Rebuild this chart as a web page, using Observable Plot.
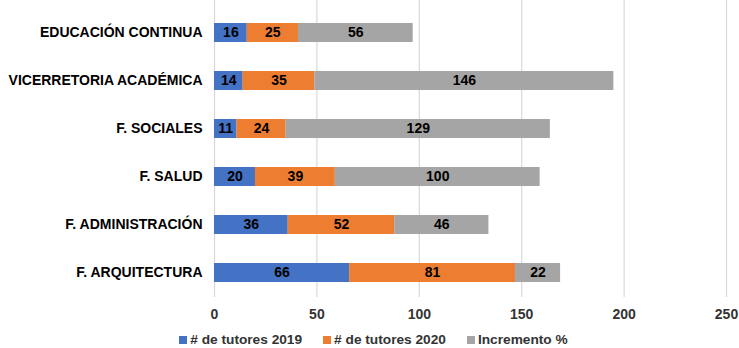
<!DOCTYPE html>
<html>
<head>
<meta charset="utf-8">
<script src="https://cdn.jsdelivr.net/npm/d3@7"></script>
<script src="https://cdn.jsdelivr.net/npm/@observablehq/plot@0.6"></script>
<style>
  body { margin: 0; background: #fff; font-family: "Liberation Sans", Arial, sans-serif; }
  #chart { width: 739px; }
  .legend { display: flex; justify-content: center; gap: 21px; margin-top: 7px; margin-left: 8px;
            font: bold 13.7px "Liberation Sans", Arial, sans-serif; color: #333; line-height: 16px; }
  .legend span.item { display: inline-flex; align-items: center; }
  .legend i { display: inline-block; width: 8px; height: 8px; margin-right: 3px; }
</style>
</head>
<body>
<div id="chart"></div>
<script>
// Tutores por dependencia: 2019, 2020 e incremento porcentual
const categories = ["EDUCACIÓN CONTINUA", "VICERRETORIA ACADÉMICA", "F. SOCIALES", "F. SALUD", "F. ADMINISTRACIÓN", "F. ARQUITECTURA"];
const tutores2019 = [16, 14, 11, 20, 36, 66];
const tutores2020 = [25, 35, 24, 39, 52, 81];
const incremento = [56, 146, 129, 100, 46, 22];
const seriesNames = ["# de tutores 2019", "# de tutores 2020", "Incremento %"];
const seriesColors = ["#4472C4", "#ED7D31", "#A5A5A5"];
const xTicks = [0, 50, 100, 150, 200, 250];

const seriesValues = [tutores2019, tutores2020, incremento];
const rows = [];
categories.forEach((c, i) => {
  seriesNames.forEach((s, j) => rows.push({category: c, series: s, value: seriesValues[j][i]}));
});

const chart = Plot.plot({
  width: 739,
  height: 325,
  marginTop: 0,
  marginLeft: 214,
  marginRight: 13,
  marginBottom: 28,
  style: {fontFamily: "'Liberation Sans', Arial, sans-serif", fontSize: "14px", fontWeight: "bold", background: "#fff"},
  x: {domain: [0, 250], ticks: xTicks, label: null},
  y: {domain: categories, paddingInner: 0.6, paddingOuter: 0.38, align: 0.6, label: null},
  color: {domain: seriesNames, range: seriesColors},
  marks: [
    Plot.gridX(xTicks, {stroke: "#d9d9d9", strokeOpacity: 1, strokeWidth: 1.2}),
    Plot.barX(rows, {x: "value", y: "category", fill: "series", order: seriesNames}),
    Plot.text(rows, Plot.stackX({x: "value", y: "category", z: "series", order: seriesNames,
      text: "value", fill: "#000", fontSize: 14, fontWeight: "bold"})),
    Plot.axisX({ticks: xTicks, tickSize: 0, tickPadding: 12, fill: "#333", label: null}),
    Plot.axisY({tickSize: 0, tickPadding: 12, fill: "#000", label: null})
  ]
});
document.getElementById("chart").appendChild(chart);

const legend = document.createElement("div");
legend.className = "legend";
seriesNames.forEach((s, j) => {
  const item = document.createElement("span");
  item.className = "item";
  const sw = document.createElement("i");
  sw.style.background = seriesColors[j];
  item.appendChild(sw);
  item.appendChild(document.createTextNode(s));
  legend.appendChild(item);
});
document.getElementById("chart").appendChild(legend);
</script>
</body>
</html>
